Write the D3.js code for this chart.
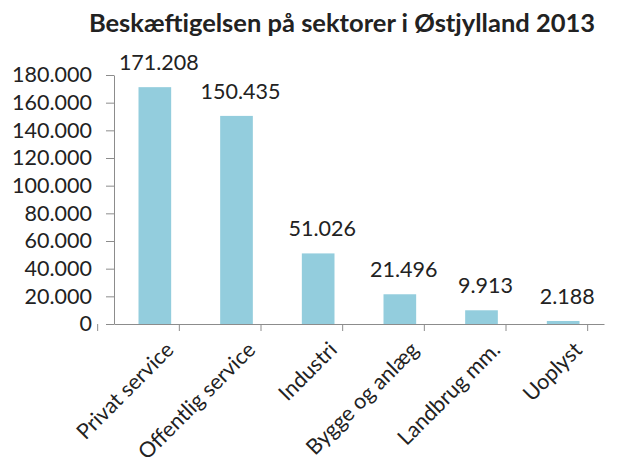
<!DOCTYPE html>
<html>
<head>
<meta charset="utf-8">
<script src="https://cdn.jsdelivr.net/npm/d3@7"></script>
<style>
  body { margin: 0; background: #fff; }
  text { font-family: Lato, "Open Sans", sans-serif; fill: #222; }
  .axis path, .axis line { stroke: #8c8c8c; }
</style>
</head>
<body>
<div id="chart"></div>
<script>
var width = 624;
var height = 470;

// sectors and employment counts
var sectors = ["Privat service", "Offentlig service", "Industri", "Bygge og anlæg", "Landbrug mm.", "Uoplyst"];
var employed = [171208, 150435, 51026, 21496, 9913, 2188];
var yTicks = [0, 20000, 40000, 60000, 80000, 100000, 120000, 140000, 160000, 180000];

var margin = { top: 75, right: 20, bottom: 146, left: 114 };

// danish number format, dot as thousands separator
var dk = d3.formatLocale({ decimal: ",", thousands: ".", grouping: [3], currency: ["", " kr."] });
var fmt = dk.format(",d");

var svg = d3.select("#chart")
  .append("svg")
  .attr("width", width)
  .attr("height", height);

svg.append("text")
  .attr("x", 342)
  .attr("y", 32)
  .attr("text-anchor", "middle")
  .style("font-size", "25.5px")
  .style("font-weight", "bold")
  .text("Beskæftigelsen på sektorer i Østjylland 2013");

var chartGroup = svg.append("g")
  .attr("transform", "translate(" + margin.left + "," + margin.top + ")");

var innerW = width - margin.left - margin.right;
var innerH = height - margin.top - margin.bottom;

var xScale = d3.scaleBand()
  .domain(sectors)
  .range([0, innerW])
  .paddingInner(0.6)
  .paddingOuter(0.3);

var yScale = d3.scaleLinear()
  .domain([0, 180000])
  .range([innerH, 0]);

// y axis
chartGroup.append("g")
  .attr("class", "axis")
  .call(d3.axisLeft(yScale).tickValues(yTicks).tickFormat(fmt).tickSize(8).tickSizeOuter(0).tickPadding(14))
  .selectAll("text")
  .style("font-size", "21.5px");

// x axis, ticks sit between categories
var xAxis = chartGroup.append("g")
  .attr("class", "axis")
  .attr("transform", "translate(0," + innerH + ")")
  .call(d3.axisBottom(xScale).tickSize(0).tickSizeOuter(0).tickPadding(0));

var step = xScale.step();
var edges = d3.range(sectors.length + 1);
xAxis.selectAll(".sep")
  .data(edges)
  .enter()
  .append("line")
  .attr("class", "sep")
  .attr("x1", function(d) { return xScale(sectors[0]) - xScale.bandwidth() / 2 - step * 0.3 + d * step; })
  .attr("x2", function(d) { return xScale(sectors[0]) - xScale.bandwidth() / 2 - step * 0.3 + d * step; })
  .attr("y1", 0)
  .attr("y2", 7)
  .attr("stroke", "#8c8c8c");

xAxis.selectAll(".tick text")
  .style("font-size", "21.5px")
  .attr("text-anchor", "end")
  .attr("dx", "-0.1em")
  .attr("dy", "0.9em")
  .attr("transform", "translate(8,12) rotate(-45)");

chartGroup.append("g")
  .selectAll("rect")
  .data(sectors)
  .enter()
  .append("rect")
  .attr("x", function(d) { return xScale(d); })
  .attr("y", function(d, i) { return yScale(employed[i]); })
  .attr("width", xScale.bandwidth())
  .attr("height", function(d, i) { return innerH - yScale(employed[i]); })
  .attr("fill", "#93cddd");

chartGroup.append("g")
  .selectAll("text")
  .data(sectors)
  .enter()
  .append("text")
  .attr("x", function(d) { return xScale(d) + xScale.bandwidth() / 2 + 4; })
  .attr("y", function(d, i) { return yScale(employed[i]) - 17; })
  .attr("text-anchor", "middle")
  .style("font-size", "21.5px")
  .text(function(d, i) { return fmt(employed[i]); });
</script>
</body>
</html>
